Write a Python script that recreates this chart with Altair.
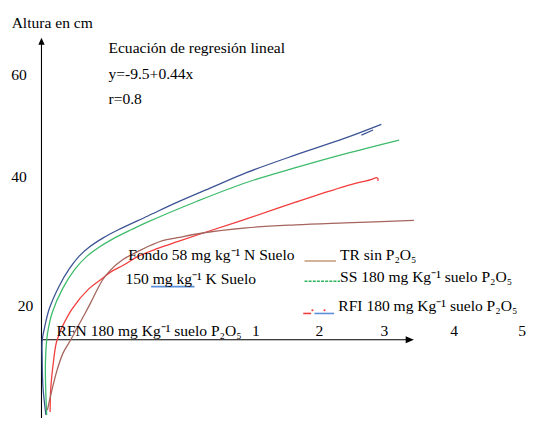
import altair as alt
import pandas as pd

# ---- curves (x in chart units along the horizontal axis, y in "Altura en cm") ----
blue_x = [0.068, 0.023, 0.011, 0.012, 0.045, 0.121, 0.273, 0.424, 0.576, 0.727, 0.955,
          1.182, 1.636, 2.091, 2.621, 3.152, 3.909, 4.667, 5.227]
blue_y = [0.77, 5.56, 10.68, 13.76, 15.81, 19.23, 23.16, 26.07, 28.29, 29.83, 31.54,
          32.91, 35.30, 37.69, 40.26, 42.82, 45.90, 48.80, 51.20]
blue_tip_x = [4.92, 5.10]
blue_tip_y = [49.32, 50.22]

green_x = [0.080, 0.064, 0.061, 0.083, 0.106, 0.171, 0.323, 0.515, 0.697, 0.879, 1.106,
           1.379, 1.636, 2.394, 3.152, 3.909, 4.667, 5.5]
green_y = [0.77, 5.56, 9.83, 14.10, 15.81, 18.72, 22.65, 26.07, 28.29, 29.83, 31.37,
           32.91, 34.27, 37.86, 41.11, 43.68, 46.07, 48.46]

red_x = [0.132, 0.144, 0.182, 0.227, 0.273, 0.323, 0.474, 0.727, 0.924, 1.061, 1.258,
         1.485, 1.788, 2.091, 2.5, 3.152, 3.909, 4.667, 5.091, 5.152, 5.174, 5.174]
red_y = [1.28, 5.56, 9.83, 13.25, 14.79, 16.15, 19.23, 22.65, 24.36, 25.56, 26.75,
         28.29, 29.66, 30.85, 32.39, 34.79, 37.69, 40.43, 41.71, 41.97, 41.79, 41.37]

brown_x = [0.091, 0.152, 0.242, 0.333, 0.45, 0.545, 0.652, 0.758, 0.848, 0.939, 1.061,
           1.258, 1.485, 1.636, 1.864, 2.091, 2.5, 3.152, 3.909, 4.667, 5.727]
brown_y = [1.62, 4.70, 8.63, 11.54, 13.81, 15.81, 18.03, 20.26, 22.31, 24.19, 25.90,
           27.78, 29.15, 30.0, 31.03, 31.54, 32.39, 33.25, 33.76, 34.10, 34.53]

series_names = ["azul", "azul_punta", "verde", "rojo", "marron"]
series_colors = ["#3d5494", "#3d5494", "#3dbb6a", "#f23c3c", "#a5645c"]

# ---- tick labels ----
y_tick_labels = ["60", "40", "20"]
y_tick_x = [-0.345, -0.345, -0.245]
y_tick_y = [58.89, 41.16, 18.89]

x_tick_labels = ["1", "2", "3", "4", "5"]
x_tick_x = [3.298, 4.273, 5.273, 6.348, 7.394]
x_tick_y = [14.39, 14.39, 14.39, 14.39, 14.39]

# ---- free texts ----
texts = [
    "Altura en cm",
    "Ecuación de regresión lineal",
    "y=-9.5+0.44x",
    "r=0.8",
    "Fondo 58 mg kg⁻¹ N Suelo",
    "150 mg  kg⁻¹ K Suelo",
    "TR sin P₂O₅",
    "SS 180 mg Kg⁻¹ suelo P₂O₅",
    "RFI 180 mg Kg⁻¹ suelo P₂O₅",
    "RFN 180 mg Kg⁻¹ suelo P₂O₅",
]
text_x = [-0.459, 1.030, 1.030, 1.030, 1.333, 1.292, 4.591, 4.591, 4.565, 0.232]
text_y = [68.0, 63.50, 59.01, 54.67, 27.61, 23.42, 27.69, 23.85, 18.89, 14.39]

# ---- axes ----
axis_x_start = [0.0, 0.0]
axis_x_end = [0.0, 5.621]
axis_y_start = [-0.6, 13.81]
axis_y_end = [65.73, 13.81]
arrow_x = [0.0, 5.664]
arrow_y = [65.62, 13.81]

# ---- legend samples ----
leg_colors = ["#c49a74", "#f23c3c", "#5b8fd9", "#5b8fd9"]
leg_x1 = [4.045, 4.026, 4.197, 1.686]
leg_x2 = [4.530, 4.147, 4.500, 2.353]
leg_y = [27.49, 18.38, 18.38, 23.04]
ss_x1, ss_x2, ss_y = [4.045], [4.591], [23.97]
dot_x = [4.167, 4.353]
dot_y = [18.94, 18.94]

xs = alt.Scale(domain=[0, 7.3], nice=False, zero=False)
ys = alt.Scale(domain=[3, 70], nice=False, zero=False)
FONT = "Liberation Serif"
FS = 15.8


def X(f):
    return alt.X(f, type="quantitative", scale=xs, axis=None)


def Y(f):
    return alt.Y(f, type="quantitative", scale=ys, axis=None)


rows = []
for name, col, xx, yy in zip(series_names, series_colors,
                             [blue_x, blue_tip_x, green_x, red_x, brown_x],
                             [blue_y, blue_tip_y, green_y, red_y, brown_y]):
    for i, (a, b) in enumerate(zip(xx, yy)):
        rows.append({"serie": name, "c": col, "i": i, "x": a, "y": b})
curves_df = pd.DataFrame(rows)

curves = alt.Chart(curves_df).mark_line(strokeWidth=1.3, interpolate="catmull-rom").encode(
    x=X("x"), y=Y("y"),
    color=alt.Color("c:N", scale=None, legend=None),
    detail="serie:N",
    order="i:Q",
)

axes_df = pd.DataFrame({"x": axis_x_start, "x2": axis_x_end, "y": axis_y_start, "y2": axis_y_end})
axes = alt.Chart(axes_df).mark_rule(color="black", strokeWidth=1.1).encode(
    x=X("x"), x2="x2", y=Y("y"), y2="y2"
)

arr_up = alt.Chart(pd.DataFrame({"x": arrow_x[:1], "y": arrow_y[:1]})).mark_point(
    shape="M0,-1L0.88,1L-0.88,1Z", filled=True, color="black", size=53, opacity=1
).encode(x=X("x"), y=Y("y"))
arr_right = alt.Chart(pd.DataFrame({"x": arrow_x[1:], "y": arrow_y[1:]})).mark_point(
    shape="M1,0L-1,0.84L-1,-0.84Z", filled=True, color="black", size=69, opacity=1
).encode(x=X("x"), y=Y("y"))

leg_df = pd.DataFrame({"c": leg_colors, "x": leg_x1, "x2": leg_x2, "y": leg_y})
leg_lines = alt.Chart(leg_df).mark_rule(strokeWidth=1.6).encode(
    x=X("x"), x2="x2", y=Y("y"),
    color=alt.Color("c:N", scale=None, legend=None),
)
ss_line = alt.Chart(pd.DataFrame({"x": ss_x1, "x2": ss_x2, "y": ss_y})).mark_rule(
    strokeWidth=1.5, color="#2fb35c", strokeDash=[3, 1.2]
).encode(x=X("x"), x2="x2", y=Y("y"))
dots = alt.Chart(pd.DataFrame({"x": dot_x, "y": dot_y})).mark_circle(
    color="#f23c3c", size=5, opacity=1
).encode(x=X("x"), y=Y("y"))

text_df = pd.DataFrame({"t": texts, "x": text_x, "y": text_y})
txt = alt.Chart(text_df).mark_text(
    align="left", baseline="alphabetic", font=FONT, fontSize=FS, color="black"
).encode(x=X("x"), y=Y("y"), text="t:N")

ticks_df = pd.DataFrame({
    "t": y_tick_labels + x_tick_labels,
    "x": y_tick_x + x_tick_x,
    "y": y_tick_y + x_tick_y,
})
ticks = alt.Chart(ticks_df).mark_text(
    align="center", baseline="alphabetic", font=FONT, fontSize=FS, color="black"
).encode(x=X("x"), y=Y("y"), text="t:N")

chart = alt.layer(axes, arr_up, arr_right, curves, leg_lines, ss_line, dots, txt, ticks).properties(
    width=482, height=392,
    padding={"left": 34, "top": 5, "right": 10, "bottom": 13},
    autosize=alt.AutoSizeParams(type="none"),
    background="white",
).configure_view(stroke=None)

chart.save("out.html", embed_options={"renderer": "svg", "actions": False})
